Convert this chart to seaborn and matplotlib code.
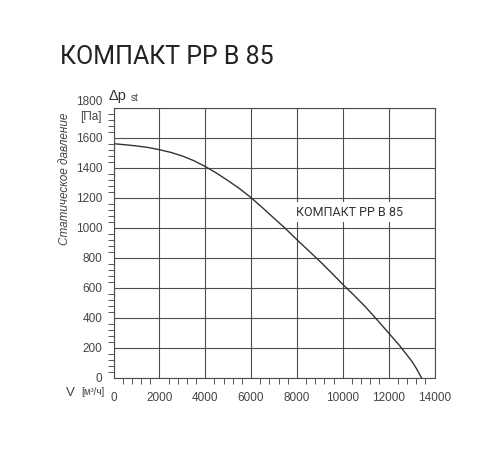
import matplotlib
matplotlib.use("Agg")
import matplotlib.pyplot as plt
import seaborn as sns
import numpy as np
import pandas as pd

# данные кривой
flow = [0, 500, 1000, 1500, 2000, 2500, 3000, 3500, 4000, 4500, 5000,
        5500, 6000, 6500, 7000, 7500, 8000, 8500, 9000, 9500, 10000,
        10500, 11000, 11500, 12000, 12500, 13000, 13200, 13430]
pressure = [1560, 1553, 1545, 1535, 1520, 1502, 1478, 1447, 1408, 1363, 1313,
            1260, 1200, 1133, 1063, 994, 920, 848, 776, 700, 622,
            548, 470, 385, 298, 210, 112, 64, 0]
x_ticks = [0, 2000, 4000, 6000, 8000, 10000, 12000, 14000]
y_ticks = [0, 200, 400, 600, 800, 1000, 1200, 1400, 1600, 1800]
title = "КОМПАКТ РР В 85"

df = pd.DataFrame({"V": flow, "dp": pressure})

sns.set_style("white")
plt.rcParams['font.family'] = ['Liberation Sans', 'DejaVu Sans']

fig = plt.figure(figsize=(5, 4.5), dpi=100)
ax = fig.add_axes([0.227, 0.1607, 0.642, 0.6])

sns.lineplot(data=df, x="V", y="dp", ax=ax, color="#333333", linewidth=1.0)

ax.set_xlim(0, 14000)
ax.set_ylim(0, 1800)
ax.set_xticks(x_ticks)
ax.set_yticks(y_ticks)
# подпись 1800 ставится отдельно, чуть выше
ax.set_yticklabels([str(v) for v in y_ticks[:-1]] + [""])
ax.set_xticks(np.arange(0, 14001, 400), minor=True)
ax.set_yticks(np.arange(0, 1801, 40), minor=True)
ax.grid(True, which="major", color="#4d4d4d", linewidth=0.8)
ax.set_axisbelow(True)
for s in ax.spines.values():
    s.set_color("#4d4d4d")
    s.set_linewidth(0.8)
ax.tick_params(which="major", direction="out", length=6, width=0.8,
               color="#444444", labelsize=8.5, labelcolor="#444444", pad=2)
ax.tick_params(axis="x", which="major", length=6.5, pad=4)
ax.tick_params(which="minor", direction="out", length=4, width=0.7,
               color="#555555", bottom=True, left=True)
ax.set_xlabel("")
ax.set_ylabel("")

# подписи
fig.text(0.121, 0.873, title, fontsize=18, color="#222222",
         family="Roboto", va="center", ha="left")
ax.text(7965, 1104, title, fontsize=9, color="#333333", family="Roboto",
        va="center", ha="left",
        bbox=dict(facecolor="white", edgecolor="none", pad=2.5))
fig.text(0.13, 0.602, "Статическое давление", rotation=90, style="italic",
         fontsize=8.5, color="#444444", va="center", ha="center")
fig.text(0.205, 0.774, "1800", fontsize=8.5, color="#444444",
         va="center", ha="right")
fig.text(0.203, 0.741, "[Па]", fontsize=8.5, color="#444444",
         va="center", ha="right")
fig.text(0.217, 0.787, "Δp", fontsize=10.5, color="#333333",
         va="center", ha="left")
fig.text(0.262, 0.783, "st", fontsize=7, color="#444444",
         va="center", ha="left")
fig.text(0.132, 0.127, "V", fontsize=9.5, color="#444444",
         va="center", ha="left")
fig.text(0.163, 0.129, "[м³/ч]", fontsize=7, color="#444444",
         va="center", ha="left")

fig.savefig("out.png", dpi=100)
